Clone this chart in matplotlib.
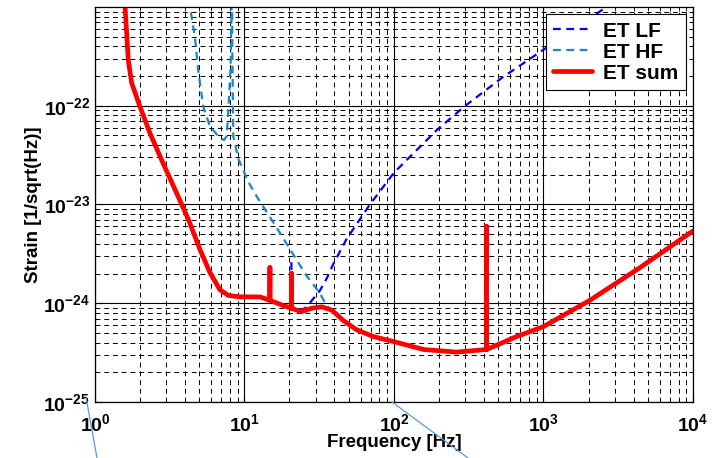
import numpy as np
import matplotlib
matplotlib.use('Agg')
import matplotlib.pyplot as plt
from matplotlib.lines import Line2D
from matplotlib.ticker import LogLocator, NullFormatter

plt.rcParams['font.family'] = ['Liberation Sans', 'DejaVu Sans']
plt.rcParams['font.weight'] = 'bold'
plt.rcParams['mathtext.fontset'] = 'custom'
plt.rcParams['mathtext.rm'] = 'Liberation Sans:bold'
plt.rcParams['mathtext.bf'] = 'Liberation Sans:bold'
plt.rcParams['mathtext.default'] = 'regular'

# ET low-frequency interferometer (visible part)
f_lf = [20.6, 20.6, 21.5, 23.0, 25.4, 28.0, 32.0, 35.6, 39.3, 48.3, 69.0,
        100.0, 194.0, 300.0, 535.0, 948.0, 2640.0, 3200.0]
h_lf = [2.6e-24, 1.0e-24, 8.6e-25, 8.4e-25, 8.9e-25, 1.05e-24, 1.35e-24, 1.8e-24,
        2.5e-24, 4.5e-24, 1.0e-23, 2.1e-23, 5.7e-23, 1.0e-22, 1.95e-22, 3.5e-22,
        1.0e-21, 1.25e-21]

# ET high-frequency interferometer
f_hf = [4.25, 4.32, 4.66, 4.9, 5.3, 5.87, 6.85, 7.3, 7.6, 7.8, 8.08, 8.2, 8.25,
        8.3, 8.42, 9.1, 10.6, 12.1, 16.7, 20.2, 26.0, 32.0, 35.3, 38.5, 45.7,
        56.0, 72.8, 98.8, 158.0, 262.0, 416.0, 662.0, 1000.0, 2040.0, 4430.0,
        10000.0]
h_hf = [1.3e-21, 1.0e-21, 5.0e-22, 2.3e-22, 9.8e-23, 6.2e-23, 4.7e-23, 4.5e-23,
        4.9e-23, 9.1e-23, 2.5e-22, 1.0e-21, 3e-21, 3e-22, 4.9e-23, 2.9e-23,
        1.7e-23, 1.2e-23, 5.6e-24, 3.5e-24, 1.9e-24, 1.26e-24, 9.5e-25, 8.5e-25,
        6.7e-25, 5.4e-25, 4.6e-25, 4.1e-25, 3.4e-25, 3.2e-25, 3.4e-25, 4.6e-25,
        5.8e-25, 1.07e-24, 2.3e-24, 5.4e-24]

# ET sum of both
f_sum = [1.56, 1.59, 1.63, 1.67, 1.76, 2.0, 2.33, 2.86, 3.52, 4.21, 5.04, 5.87,
         6.85, 7.8, 9.3, 12.7, 14.8, 14.8, 14.8, 18.1, 20.6, 20.6, 20.6, 24.0,
         28.1, 32.9, 38.5, 45.7, 56.0, 72.8, 98.8, 158.0, 262.0, 416.0, 416.0,
         416.0, 662.0, 1000.0, 2040.0, 4430.0, 10000.0]
h_sum = [1.3e-21, 1.0e-21, 5.4e-22, 2.9e-22, 1.7e-22, 9.8e-23, 5.3e-23, 2.6e-23,
         1.3e-23, 7.1e-24, 3.5e-24, 2.05e-24, 1.37e-24, 1.2e-24, 1.16e-24, 1.16e-24,
         1.07e-24, 2.3e-24, 1.07e-24, 9.5e-25, 8.9e-25, 2.0e-24, 8.9e-25, 8.2e-25,
         8.9e-25, 9.2e-25, 8.5e-25, 6.7e-25, 5.4e-25, 4.6e-25, 4.1e-25, 3.4e-25,
         3.2e-25, 3.4e-25, 6.0e-24, 3.4e-25, 4.6e-25, 5.8e-25, 1.07e-24, 2.3e-24,
         5.4e-24]

fig = plt.figure(figsize=(7.14, 4.58), dpi=100)
ax = fig.add_axes([0.133, 0.1223, 0.8376, 0.8624])

ax.loglog(f_lf, h_lf, color='#0000ff', lw=1.6, ls=(0, (3.5, 2.5)), label='ET LF')
ax.loglog(f_hf, h_hf, color='#1b87c9', lw=1.6, ls=(0, (3.5, 2.5)), label='ET HF')
ax.loglog(f_sum, h_sum, color='#ff0000', lw=3.4, solid_joinstyle='round',
          solid_capstyle='round', label='ET sum')

ax.set_xlim(1, 1e4)
ax.set_ylim(1e-25, 1e-21)
ax.set_xticks([1, 10, 100, 1000, 10000])
ax.set_yticks([1e-25, 1e-24, 1e-23, 1e-22])
ax.xaxis.set_minor_locator(LogLocator(base=10, subs=np.arange(2, 10), numticks=20))
ax.yaxis.set_minor_locator(LogLocator(base=10, subs=np.arange(2, 10), numticks=20))
ax.xaxis.set_minor_formatter(NullFormatter())
ax.yaxis.set_minor_formatter(NullFormatter())

ax.grid(which='major', color='k', ls='-', lw=0.8)
ax.grid(which='minor', color='k', ls=(0, (5, 4)), lw=0.7)
ax.tick_params(which='both', direction='in', top=True, right=True, labelsize=14)
ax.tick_params(axis='x', which='major', pad=8)
ax.tick_params(which='major', length=5)
ax.tick_params(which='minor', length=3)
for s in ax.spines.values():
    s.set_linewidth(0.9)

ax.set_xlabel('Frequency [Hz]', fontsize=13.5, fontweight='bold', labelpad=-1)
ax.set_ylabel('Strain [1/sqrt(Hz)]', fontsize=13.5, fontweight='bold', labelpad=1)

leg = ax.legend(loc='upper right', fontsize=15, handlelength=1.85, fancybox=False,
                framealpha=1, edgecolor='k', borderaxespad=0.35, borderpad=0.35,
                labelspacing=0.1, handletextpad=0.55)
leg.get_frame().set_linewidth(0.8)

# thin pointer lines drawn over the figure
fig.add_artist(Line2D([86 / 714, 97 / 714], [1 - 397 / 458, 0.0], color='#5b9bd5', lw=0.9))
fig.add_artist(Line2D([392 / 714, 468 / 714], [1 - 402 / 458, 0.0], color='#5b9bd5', lw=0.9))

fig.savefig('out.png', dpi=100)
